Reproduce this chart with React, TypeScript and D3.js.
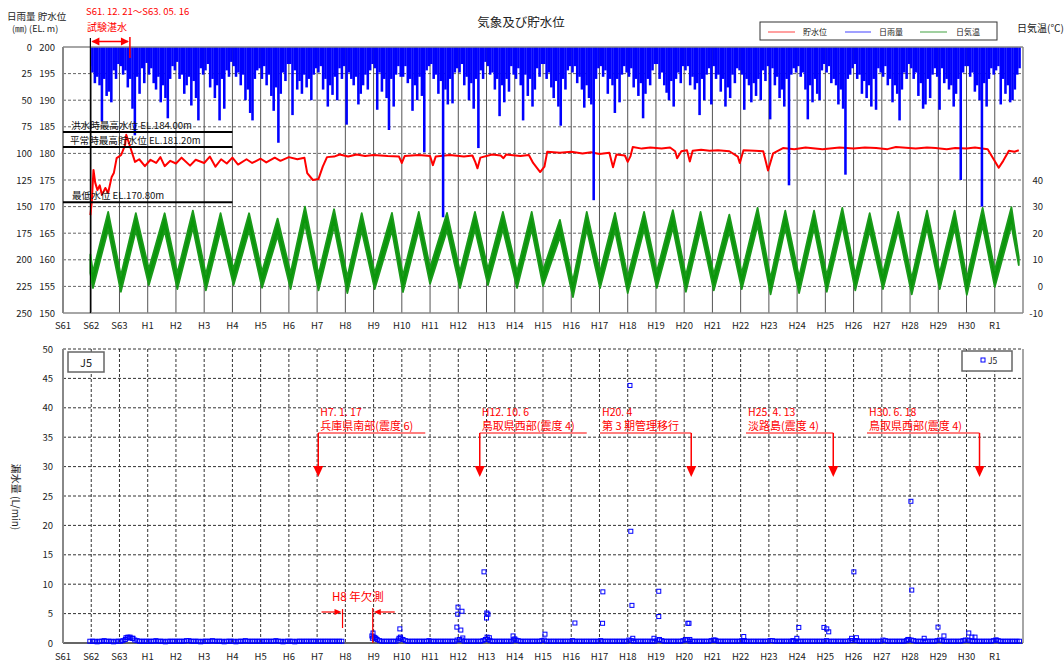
import React from "react";
import * as d3 from "d3";

const FONT = "'Noto Sans CJK JP','Noto Sans',sans-serif";

const YEAR_LABELS = ["S61","S62","S63","H1","H2","H3","H4","H5","H6","H7","H8","H9","H10","H11","H12","H13","H14","H15","H16","H17","H18","H19","H20","H21","H22","H23","H24","H25","H26","H27","H28","H29","H30","R1"];
const FIRST_YEAR = 1986;

const RAIN_TICKS = [0,25,50,75,100,125,150,175,200,225,250];
const LEVEL_TICKS = [200,195,190,185,180,175,170,165,160,155,150];
const TEMP_TICKS = [-10,0,10,20,30,40];
const J5_TICKS = [0,5,10,15,20,25,30,35,40,45,50];

// monthly max daily rainfall (mm), Jan..Dec, 1987..2019
const RAIN_DEC_1986 = 18;
const RAIN_MONTHLY = [
  [24,34,28,36,70,30,46,42,52,22,30,16],
  [18,26,22,38,30,58,83,28,44,20,34,15],
  [26,20,34,40,28,52,36,48,67,30,18,22],
  [14,30,26,44,36,28,55,32,48,69,20,26],
  [22,16,38,30,48,36,69,30,58,22,28,14],
  [18,28,24,36,26,50,40,62,69,30,22,20],
  [30,18,36,26,46,60,38,90,44,24,32,16],
  [16,64,22,40,32,44,26,38,30,50,26,20],
  [24,18,40,30,56,36,45,28,50,20,30,18],
  [73,24,30,36,28,54,44,36,26,40,22,16],
  [20,59,24,42,30,48,78,30,56,26,18,28],
  [28,18,34,30,60,36,50,28,46,99,22,18],
  [16,30,26,44,32,160,40,54,30,53,24,20],
  [24,16,36,28,50,34,58,30,95,22,30,14],
  [18,26,24,40,30,65,36,52,30,42,18,26],
  [30,20,36,69,26,46,30,56,40,20,28,16],
  [16,30,24,38,48,32,56,74,30,40,22,18],
  [24,18,34,28,40,57,36,48,54,144,30,20],
  [18,28,22,44,30,36,62,30,52,26,18,24],
  [28,20,38,30,46,34,67,44,30,36,22,16],
  [16,30,24,36,43,50,32,56,30,24,34,18],
  [22,18,36,28,40,34,64,30,50,26,20,54],
  [18,30,26,42,30,56,38,48,26,34,20,22],
  [26,59,30,36,52,34,46,30,50,22,32,18],
  [68,20,36,28,48,40,56,30,130,26,20,24],
  [18,28,24,40,68,36,52,30,44,50,22,16],
  [24,18,34,30,36,54,40,58,120,30,26,20],
  [16,30,26,44,32,48,36,56,30,59,20,24],
  [28,18,36,30,52,36,44,69,40,24,30,16],
  [20,30,24,46,34,58,54,30,48,26,20,28],
  [59,20,34,30,40,36,56,44,30,125,24,18],
  [18,28,24,42,36,50,150,34,56,30,20,26],
  [22,18,54,30,44,36,52,50,40,26,20],
];

// reservoir level (EL.m) read at turning points
const LEVEL = [
  [1986.97,168.4],[1987.02,171],[1987.08,176.9],[1987.14,174.5],[1987.22,173.1],[1987.3,174],[1987.38,172.2],
  [1987.5,173.5],[1987.6,172.6],[1987.72,175.5],[1987.8,176.3],[1987.9,179.1],[1988.06,179.7],[1988.2,181.6],
  [1988.24,183.5],[1988.38,181.2],[1988.55,178.4],[1988.7,178.9],[1988.9,177.6],[1989.1,178.8],[1989.3,178.2],
  [1989.45,179.3],[1989.6,177.6],[1989.8,178.6],[1990.0,178.1],[1990.2,179.2],[1990.5,177.7],[1990.7,178.8],
  [1991.0,178.2],[1991.2,179.4],[1991.4,177.5],[1991.6,178.9],[1991.8,178.1],[1992.0,179.2],[1992.2,177.9],
  [1992.5,178.9],[1992.7,178.2],[1993.0,179.0],[1993.2,178.3],[1993.5,179.2],[1993.7,178.6],[1994.0,179.3],
  [1994.3,178.9],[1994.55,179.2],[1994.65,176.3],[1994.85,175],[1995.05,175.2],[1995.2,177.5],[1995.35,179.3],
  [1995.6,179.4],[1995.8,179.8],[1996.1,179.4],[1996.4,179.8],[1996.7,179.5],[1997.0,179.7],[1997.5,179.5],
  [1997.9,179.4],[1998.0,178.2],[1998.1,179.5],[1998.6,179.7],[1999.0,179.5],[1999.1,177.8],[1999.2,179.4],
  [1999.7,179.7],[2000.2,179.4],[2000.5,179.6],[2000.6,178.4],[2000.68,177.2],[2000.78,179.2],[2001.2,179.8],
  [2001.5,179.6],[2001.6,179.1],[2001.7,179.8],[2002.2,179.5],[2002.5,179.7],[2002.65,178.2],[2002.9,176.5],
  [2003.05,177.5],[2003.15,180.3],[2003.6,180.1],[2004.0,180.3],[2004.4,180.0],[2004.7,180.2],[2005.0,179.9],
  [2005.35,180.1],[2005.48,177.4],[2005.6,179.8],[2005.9,179.6],[2006.0,178.4],[2006.1,179.5],[2006.18,181.2],
  [2006.5,180.9],[2006.8,181.1],[2007.2,180.9],[2007.5,181.1],[2007.68,180.4],[2007.75,179.1],[2007.9,180.4],
  [2008.1,180.6],[2008.2,178.5],[2008.3,180.5],[2008.6,180.7],[2008.9,180.5],[2009.2,180.6],[2009.6,180.4],
  [2009.9,179.4],[2009.97,178.2],[2010.1,180.6],[2010.5,180.5],[2010.8,180.4],[2010.97,176.8],[2011.15,180.0],
  [2011.5,181.0],[2011.9,180.8],[2012.3,181.1],[2012.9,180.8],[2013.5,181.1],[2014.0,180.9],[2014.4,181.1],
  [2014.8,181.0],[2015.2,180.8],[2015.5,181.2],[2016.2,180.9],[2016.6,181.1],[2016.9,181.0],[2017.3,180.8],
  [2017.6,181.0],[2018.0,180.9],[2018.3,181.1],[2018.75,180.8],[2018.95,179.0],[2019.14,177.3],[2019.3,178.6],
  [2019.5,180.5],[2019.7,180.3],[2019.85,180.6],
];

// daily air temperature band: troughs [t, low, high], peaks [t, high, low]
const TEMP_START = [1986.97, 12, 5];
const TEMP_END = [2019.85, 11, 8];
const TEMP_TROUGHS = [
  [1987.06,-0.6,5.5],[1988.05,-2.0,4.0],[1989.04,0.5,6.5],[1990.05,-1.0,5.0],[1991.06,-1.5,4.5],
  [1992.04,0.5,6.5],[1993.05,-0.5,5.5],[1994.06,-1.0,5.0],[1995.05,-1.5,4.5],[1996.07,-2.5,3.5],
  [1997.04,-1.0,5.0],[1998.04,-2.1,4.0],[1999.0,1.0,7.0],[2000.06,-0.6,5.5],[2001.05,0.5,6.5],
  [2002.08,-0.6,5.5],[2003.0,0.1,6.0],[2004.06,-4.0,2.0],[2005.02,-0.6,5.5],[2006.0,-2.5,3.5],
  [2007.03,-0.6,5.5],[2008.06,-2.0,4.0],[2009.05,-1.5,4.5],[2010.04,-1.0,5.0],[2011.06,-3.0,3.0],
  [2012.07,-2.5,3.5],[2013.05,-2.0,4.0],[2014.06,-1.5,4.5],[2015.04,-1.0,5.0],[2016.06,-3.0,3.0],
  [2017.05,-1.0,5.0],[2018.01,-3.2,3.0],[2019.0,-0.2,6.0],
];
const TEMP_PEAKS = [
  [1987.6,28.0,21.5],[1988.58,27.5,21.0],[1989.6,27.5,21.0],[1990.6,28.5,22.0],[1991.58,27.5,21.0],
  [1992.59,27.5,21.0],[1993.6,25.5,19.0],[1994.57,30.0,23.5],[1995.6,29.0,22.5],[1996.58,27.5,21.0],
  [1997.65,27.6,21.0],[1998.6,28.0,21.5],[1999.6,27.6,21.0],[2000.59,28.0,21.5],[2001.58,28.0,21.5],
  [2002.6,28.0,21.5],[2003.6,25.0,18.5],[2004.55,28.0,21.5],[2005.55,27.6,21.0],[2006.58,28.0,21.5],
  [2007.6,28.7,22.0],[2008.58,28.0,21.5],[2009.6,27.0,20.5],[2010.6,29.5,23.0],[2011.58,28.5,22.0],
  [2012.6,28.5,22.0],[2013.6,29.5,23.0],[2014.57,27.5,21.0],[2015.58,28.0,21.5],[2016.6,28.5,22.0],
  [2017.58,28.5,22.0],[2018.57,29.5,23.0],[2019.59,29.8,23.0],
];

// J5 leakage (L/min): monthly baseline readings 1987..2019 (null = missing)
const J5_DEC_1986 = 0.3;
const J5_BASE = [
  [0.3,0.3,0.2,0.3,0.3,0.4,0.3,0.3,0.3,0.2,0.3,0.3],
  [0.3,0.4,0.6,0.9,1.0,0.8,0.5,0.4,0.3,0.3,0.3,0.3],
  [0.3,0.3,0.3,0.4,0.3,0.3,0.3,0.2,0.3,0.3,0.3,0.3],
  [0.3,0.3,0.3,0.3,0.4,0.4,0.3,0.3,0.3,0.3,0.2,0.3],
  [0.3,0.3,0.3,0.4,0.3,0.3,0.3,0.3,0.2,0.3,0.3,0.3],
  [0.3,0.2,0.3,0.3,0.3,0.4,0.3,0.3,0.3,0.3,0.3,0.3],
  [0.3,0.3,0.3,0.3,0.3,0.3,0.4,0.3,0.3,0.2,0.3,0.3],
  [0.3,0.3,0.2,0.3,0.3,0.3,0.3,0.3,0.3,0.3,0.3,0.3],
  [0.3,0.3,0.3,0.3,0.3,0.3,0.3,0.3,0.3,0.3,0.3,null],
  [null,null,null,null,null,null,null,null,null,null,null,0.8],
  [0.9,0.6,0.4,0.3,0.3,0.3,0.3,0.3,0.3,0.3,0.5,0.8],
  [0.6,0.4,0.3,0.3,0.3,0.3,0.3,0.3,0.3,0.3,0.3,0.4],
  [0.3,0.3,0.3,0.3,0.3,0.3,0.3,0.3,0.3,0.3,0.3,0.5],
  [0.6,0.5,0.3,0.3,0.3,0.3,0.3,0.3,0.3,0.3,0.4,0.6],
  [0.6,0.4,0.3,0.3,0.3,0.3,0.3,0.3,0.3,0.3,0.3,0.5],
  [0.5,0.4,0.3,0.3,0.3,0.3,0.3,0.3,0.3,0.3,0.3,0.4],
  [0.5,0.3,0.3,0.3,0.3,0.3,0.3,0.3,0.3,0.3,0.3,0.3],
  [0.4,0.3,0.3,0.3,0.3,0.3,0.3,0.3,0.3,0.3,0.3,0.3],
  [0.4,0.3,0.3,0.3,0.3,0.3,0.3,0.3,0.3,0.3,0.3,0.3],
  [0.5,0.4,0.3,0.3,0.3,0.3,0.3,0.3,0.3,0.3,0.3,0.3],
  [0.5,0.6,0.4,0.3,0.3,0.3,0.3,0.3,0.3,0.3,0.3,0.4],
  [0.6,0.5,0.3,0.3,0.3,0.3,0.3,0.3,0.3,0.3,0.3,0.4],
  [0.5,0.4,0.3,0.3,0.3,0.3,0.3,0.3,0.3,0.3,0.3,0.3],
  [0.4,0.3,0.3,0.3,0.3,0.3,0.3,0.3,0.3,0.3,0.3,0.3],
  [0.4,0.4,0.3,0.3,0.3,0.3,0.3,0.3,0.3,0.3,0.3,0.3],
  [0.3,0.3,0.3,0.3,0.3,0.3,0.3,0.3,0.3,0.3,0.3,0.3],
  [0.4,0.3,0.3,0.3,0.3,0.3,0.3,0.3,0.3,0.3,0.4,0.4],
  [0.4,0.4,0.3,0.3,0.3,0.3,0.3,0.3,0.3,0.3,0.3,0.3],
  [0.5,0.4,0.3,0.3,0.3,0.3,0.3,0.3,0.3,0.3,0.4,0.6],
  [0.5,0.4,0.3,0.3,0.3,0.3,0.3,0.3,0.3,0.3,0.3,0.4],
  [0.5,0.4,0.3,0.3,0.3,0.3,0.3,0.3,0.3,0.3,0.4,0.5],
  [0.5,0.4,0.3,0.3,0.3,0.3,0.3,0.3,0.3,0.3,0.3,0.4],
  [0.5,0.4,0.3,0.3,0.3,0.3,0.3,0.3,0.3,0.3,0.3],
];
// J5 high readings [t, L/min]
const J5_PEAKS = [
  [1988.23,0.9],[1988.3,1.0],[1988.37,0.85],[1988.48,0.8],
  [1996.94,1.2],[1996.98,1.7],[1997.01,1.0],[1997.08,0.8],
  [1997.93,2.4],[1997.9,0.8],[1997.95,1.0],
  [1999.95,2.7],[1999.99,6.1],[1999.98,4.9],[2000.09,2.2],[2000.13,5.4],[2000.16,0.85],
  [2000.91,12.1],[2001.0,4.25],[2001.01,5.1],[2001.05,4.9],[2001.02,1.0],[2001.1,0.9],
  [2001.94,1.2],[2002.0,0.7],[2003.07,1.5],[2004.13,3.4],
  [2005.12,8.7],[2005.11,3.35],
  [2006.08,43.8],[2006.11,19.0],[2006.15,6.4],[2006.18,0.8],
  [2006.93,0.8],[2007.1,8.8],[2007.1,4.5],
  [2008.13,3.35],[2008.17,3.35],[2008.2,0.6],[2009.09,0.5],[2010.11,1.1],[2010.13,0.4],
  [2011.85,0.4],[2011.99,0.8],[2012.06,2.65],
  [2012.95,2.65],[2013.05,2.4],[2013.12,1.9],
  [2013.93,0.8],[2014.01,12.1],[2014.1,0.9],
  [2015.92,0.6],[2016.03,24.1],[2016.06,9.0],
  [2016.99,2.7],[2017.2,1.2],[2016.5,0.8],
  [2018.08,1.7],[2018.19,1.0],[2018.3,1.0],[2019.05,0.5],
];

const J5_GAP = [1995.9, 1996.97];
const TRIAL = [1986.97, 1988.37];
const FLOOD_LEVEL = 184.0;
const NORMAL_LEVEL = 181.2;
const MIN_LEVEL = 170.8;
const LEVEL_LINES_END = 1992.0;

const EVENTS = [
  { t: 1995.04, l1: "H7. 1. 17", l2: "兵庫県南部(震度 6)", side: "left", tx: 0 },
  { t: 2000.76, l1: "H12. 10. 6", l2: "鳥取県西部(震度 4)", side: "left", tx: 0 },
  { t: 2008.25, l1: "H20. 4", l2: "第 3 期管理移行", side: "right", tx: 602 },
  { t: 2013.28, l1: "H25. 4. 13", l2: "淡路島(震度 4)", side: "right", tx: 748 },
  { t: 2018.46, l1: "H30. 6. 18", l2: "鳥取県西部(震度 4)", side: "right", tx: 869 },
];

const L = 63, R = 1023;
const TT = 47, TB = 313;
const BT = 349, BB = 643;

export default function App() {
  const x = d3.scaleLinear().domain([FIRST_YEAR, 2020]).range([L, R]);
  const yRain = d3.scaleLinear().domain([0, 250]).range([TT, TB]);
  const yLev = d3.scaleLinear().domain([150, 200]).range([TB, TT]);
  const yTemp = d3.scaleLinear().domain([-10, 90]).range([TB, TT]);
  const yJ = d3.scaleLinear().domain([0, 50]).range([BB, BT]);
  const years = d3.range(1987, 2020);

  const rainBars: { x0: number; x1: number; v: number }[] = [];
  rainBars.push({ x0: x(TRIAL[0]), x1: x(1987), v: RAIN_DEC_1986 });
  RAIN_MONTHLY.forEach((row, i) => {
    row.forEach((v, m) => {
      const yr = 1987 + i;
      rainBars.push({ x0: x(yr + m / 12), x1: x(yr + (m + 1) / 12), v });
    });
  });

  const tempPts: { t: number; hi: number; lo: number }[] = [];
  tempPts.push({ t: TEMP_START[0], hi: TEMP_START[1], lo: TEMP_START[2] });
  TEMP_TROUGHS.forEach((d) => tempPts.push({ t: d[0], lo: d[1], hi: d[2] }));
  TEMP_PEAKS.forEach((d) => tempPts.push({ t: d[0], hi: d[1], lo: d[2] }));
  tempPts.push({ t: TEMP_END[0], hi: TEMP_END[1], lo: TEMP_END[2] });
  tempPts.sort((a, b) => a.t - b.t);
  const tempArea = d3
    .area<{ t: number; hi: number; lo: number }>()
    .x((d) => x(d.t))
    .y0((d) => yTemp(d.lo))
    .y1((d) => yTemp(d.hi))(tempPts) as string;

  const levelPath = d3
    .line<number[]>()
    .x((d) => x(d[0]))
    .y((d) => yLev(d[1]))(LEVEL) as string;

  const j5: number[][] = [];
  j5.push([1986.95, J5_DEC_1986]);
  J5_BASE.forEach((row, i) => {
    row.forEach((v, m) => {
      if (v === null || v === undefined) return;
      j5.push([1987 + i + (m + 0.5) / 12, v]);
    });
  });
  J5_PEAKS.forEach((p) => j5.push(p));

  const txt = (props: any, s: string) => (
    <text fontFamily={FONT} {...props}>{s}</text>
  );

  const arrowHead = (ax: number, tip: number, key: string) => (
    <path key={key} d={`M${ax - 5},${tip - 11}L${ax + 5},${tip - 11}L${ax},${tip}Z`} fill="#ff0000" />
  );

  return (
    <svg width={1064} height={664} style={{ position: "absolute", left: 0, top: 0, background: "#fff" }}>
      <rect x={0} y={0} width={1064} height={664} fill="#fff" />
      {/* ---------- TOP CHART ---------- */}
      {txt({ x: 521, y: 27, fontSize: 12.5, textAnchor: "middle", fill: "#222" }, "気象及び貯水位")}
      {txt({ x: 7, y: 19.5, fontSize: 9.5, fill: "#222" }, "日雨量 貯水位")}
      {txt({ x: 12, y: 32, fontSize: 9, fill: "#222" }, "(㎜)  (EL. m)")}
      {txt({ x: 86, y: 15, fontSize: 9.5, fill: "#ff0000" }, "S61. 12. 21～S63. 05. 16")}
      {txt({ x: 87, y: 31, fontSize: 10, fill: "#ff0000" }, "試験湛水")}

      <rect x={760} y={22} width={237} height={18} fill="#fff" stroke="#333" strokeWidth={1} />
      <line x1={768} x2={795} y1={32} y2={32} stroke="#ff8080" strokeWidth={1.5} />
      {txt({ x: 803, y: 35, fontSize: 8, fill: "#222" }, "貯水位")}
      <line x1={845} x2={871} y1={32} y2={32} stroke="#8080ff" strokeWidth={1.5} />
      {txt({ x: 879, y: 35, fontSize: 8, fill: "#222" }, "日雨量")}
      <line x1={920} x2={947} y1={32} y2={32} stroke="#80c080" strokeWidth={1.5} />
      {txt({ x: 956, y: 35, fontSize: 8, fill: "#222" }, "日気温")}
      {txt({ x: 1017, y: 32, fontSize: 10, fill: "#222" }, "日気温(℃)")}

      {RAIN_TICKS.slice(1, -1).map((v) => (
        <line key={"hg" + v} x1={L} x2={R} y1={yRain(v)} y2={yRain(v)} stroke="#666" strokeDasharray="3,2" strokeWidth={1} />
      ))}
      {years.map((yr) => (
        <line key={"vg" + yr} x1={x(yr)} x2={x(yr)} y1={TT} y2={TB} stroke="#555" strokeWidth={1} />
      ))}

      <path d={tempArea} fill="#0a960a" stroke="#1a9a1a" strokeWidth={1.8} strokeLinejoin="round" />
      <path d={levelPath} fill="none" stroke="#ff0000" strokeWidth={2} strokeLinejoin="round" />
      {rainBars.map((b, i) => (
        <rect key={"r" + i} x={b.x0} y={TT} width={Math.max(0.8, b.x1 - b.x0 + 0.2)} height={yRain(b.v) - TT} fill="#0000ff" />
      ))}

      <line x1={L} x2={R} y1={TT} y2={TT} stroke="#888" strokeWidth={1.5} />
      <line x1={L} x2={R} y1={TB} y2={TB} stroke="#888" strokeWidth={1.5} />
      <line x1={L} x2={L} y1={TT} y2={TB} stroke="#888" strokeWidth={2} />
      <line x1={R} x2={R} y1={TT} y2={TB} stroke="#888" strokeWidth={1.5} />

      <line x1={x(TRIAL[0])} x2={x(TRIAL[0])} y1={38} y2={TB} stroke="#000" strokeWidth={1.2} />
      <line x1={x(TRIAL[1])} x2={x(TRIAL[1])} y1={37} y2={58} stroke="#ff0000" strokeWidth={1.5} />
      <line x1={x(TRIAL[0]) + 2} x2={x(TRIAL[1]) - 2} y1={41.5} y2={41.5} stroke="#ff0000" strokeWidth={1.5} />
      <path d={`M${x(TRIAL[0]) + 1},41.5L${x(TRIAL[0]) + 9},37.5L${x(TRIAL[0]) + 9},45.5Z`} fill="#ff0000" />
      <path d={`M${x(TRIAL[1]) - 1},41.5L${x(TRIAL[1]) - 9},37.5L${x(TRIAL[1]) - 9},45.5Z`} fill="#ff0000" />

      <line x1={L} x2={x(LEVEL_LINES_END)} y1={yLev(FLOOD_LEVEL)} y2={yLev(FLOOD_LEVEL)} stroke="#000" strokeWidth={2} />
      <line x1={L} x2={x(LEVEL_LINES_END)} y1={yLev(NORMAL_LEVEL)} y2={yLev(NORMAL_LEVEL)} stroke="#000" strokeWidth={2} />
      <line x1={L} x2={x(LEVEL_LINES_END)} y1={yLev(MIN_LEVEL)} y2={yLev(MIN_LEVEL)} stroke="#000" strokeWidth={2} />
      {txt({ x: 71, y: yLev(FLOOD_LEVEL) - 3, fontSize: 9.6, fill: "#111" }, "洪水時最高水位 EL.184.00m")}
      {txt({ x: 70, y: yLev(NORMAL_LEVEL) - 3, fontSize: 9.6, fill: "#111" }, "平常時最高貯水位 EL.181.20m")}
      {txt({ x: 72, y: yLev(MIN_LEVEL) - 3, fontSize: 9.6, fill: "#111" }, "最低水位 EL.170.80m")}

      {RAIN_TICKS.map((v) => txt({ key: "rl" + v, x: 32, y: yRain(v) + 3.5, fontSize: 9.5, textAnchor: "end", fill: "#222" }, String(v)))}
      {LEVEL_TICKS.map((v) => txt({ key: "ll" + v, x: 55, y: yLev(v) + 3.5, fontSize: 9.5, textAnchor: "end", fill: "#222" }, String(v)))}
      {TEMP_TICKS.map((v) => txt({ key: "tl" + v, x: 1043, y: yTemp(v) + 3.5, fontSize: 9.5, textAnchor: "end", fill: "#222" }, String(v)))}
      {YEAR_LABELS.map((s, i) => txt({ key: "xt" + i, x: x(FIRST_YEAR + i), y: 329, fontSize: 9.5, textAnchor: "middle", fill: "#222" }, s))}

      {/* ---------- BOTTOM CHART ---------- */}
      {J5_TICKS.slice(1).map((v) => (
        <line key={"bh" + v} x1={L} x2={R} y1={yJ(v)} y2={yJ(v)} stroke="#333" strokeDasharray="3,2" strokeWidth={1} />
      ))}
      {years.map((yr) => (
        <line key={"bv" + yr} x1={x(yr)} x2={x(yr)} y1={BT} y2={BB} stroke="#333" strokeDasharray="3,2" strokeWidth={1} />
      ))}
      <line x1={L} x2={R} y1={BB} y2={BB} stroke="#333" strokeWidth={1.5} />
      <line x1={L} x2={L} y1={BT} y2={BB} stroke="#888" strokeWidth={2} />
      <line x1={R} x2={R} y1={BT} y2={BB} stroke="#888" strokeWidth={1.5} />

      {j5.map((p, i) => (
        <rect key={"j" + i} x={x(p[0]) - 2} y={yJ(p[1]) - 2} width={4} height={4} fill="none" stroke="#0000ff" strokeWidth={1} />
      ))}

      <rect x={68} y={352} width={36} height={20} fill="#fff" stroke="#666" strokeWidth={1.5} />
      {txt({ x: 86, y: 366.5, fontSize: 11, textAnchor: "middle", fill: "#222" }, "J5")}
      <rect x={962} y={351} width={50} height={20} fill="#fff" stroke="#666" strokeWidth={1.5} />
      <rect x={981} y={358} width={4} height={4} fill="none" stroke="#0000ff" strokeWidth={1} />
      {txt({ x: 988, y: 364, fontSize: 8.5, fill: "#222" }, "J5")}

      {EVENTS.map((e, i) => {
        const ax = x(e.t);
        const tx0 = e.side === "left" ? ax + 2 : e.tx;
        const u0 = e.side === "left" ? ax : e.tx - 2;
        const u1 = e.side === "left" ? ax + 107 : ax;
        return (
          <g key={"ev" + i}>
            {txt({ x: tx0, y: 416, fontSize: 10.5, fill: "#ff0000" }, e.l1)}
            {txt({ x: tx0, y: 430, fontSize: 11, fill: "#ff0000" }, e.l2)}
            <line x1={u0} x2={u1} y1={433} y2={433} stroke="#ff0000" strokeWidth={1.2} />
            <line x1={ax} x2={ax} y1={433} y2={467} stroke="#ff0000" strokeWidth={1.5} />
            {arrowHead(ax, 477, "ah" + i)}
          </g>
        );
      })}

      {txt({ x: 332, y: 601, fontSize: 11.5, fill: "#ff0000" }, "H8 年欠測")}
      <line x1={x(J5_GAP[0])} x2={x(J5_GAP[0])} y1={609} y2={628} stroke="#ff0000" strokeWidth={1.2} />
      <line x1={x(J5_GAP[1])} x2={x(J5_GAP[1])} y1={608} y2={BB} stroke="#ff0000" strokeWidth={1.2} />
      <line x1={x(J5_GAP[0]) - 21} x2={x(J5_GAP[0]) - 6} y1={612} y2={612} stroke="#ff0000" strokeWidth={1.2} />
      <path d={`M${x(J5_GAP[0]) - 1},612L${x(J5_GAP[0]) - 8},609L${x(J5_GAP[0]) - 8},615Z`} fill="#ff0000" />
      <line x1={x(J5_GAP[1]) + 6} x2={x(J5_GAP[1]) + 22} y1={612} y2={612} stroke="#ff0000" strokeWidth={1.2} />
      <path d={`M${x(J5_GAP[1]) + 1},612L${x(J5_GAP[1]) + 8},609L${x(J5_GAP[1]) + 8},615Z`} fill="#ff0000" />

      {J5_TICKS.map((v) => txt({ key: "jl" + v, x: 53, y: yJ(v) + 3.5, fontSize: 9.5, textAnchor: "end", fill: "#222" }, String(v)))}
      {YEAR_LABELS.map((s, i) => txt({ key: "bx" + i, x: x(FIRST_YEAR + i), y: 660, fontSize: 9.5, textAnchor: "middle", fill: "#222" }, s))}
      <text fontFamily={FONT} fontSize={10} fill="#222" transform="translate(12,497) rotate(90)" textAnchor="middle">漏水量 (L/min)</text>
    </svg>
  );
}
